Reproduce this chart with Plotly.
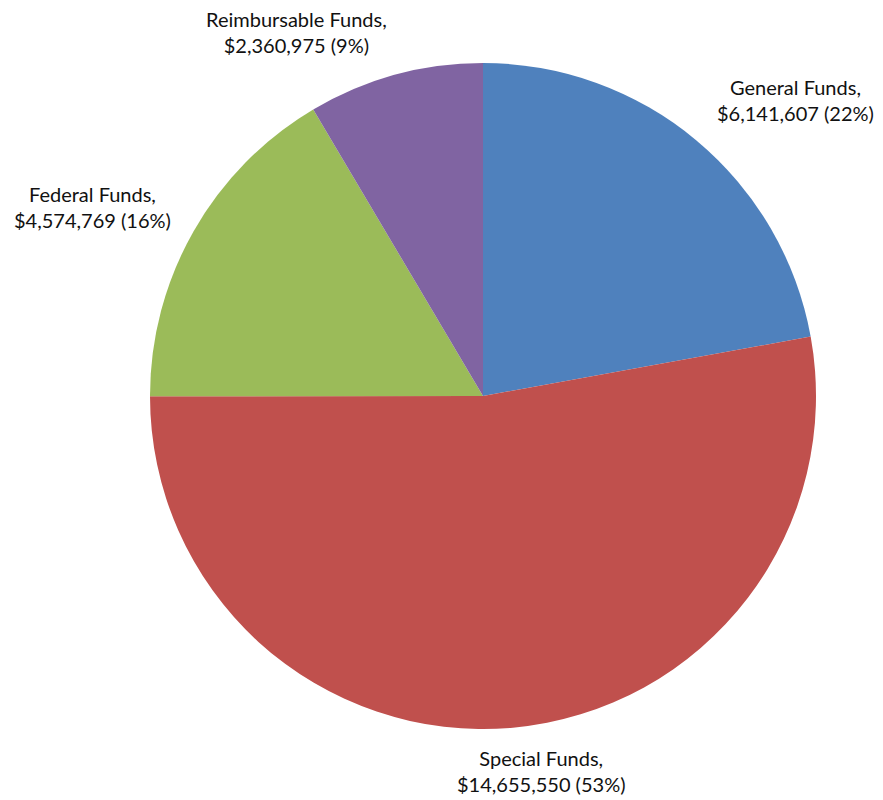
import plotly.graph_objects as go

# Fund sources and amounts
funds = ["General Funds", "Special Funds", "Federal Funds", "Reimbursable Funds"]
amounts = [6141607, 14655550, 4574769, 2360975]
colors = ["#4F81BD", "#C0504D", "#9BBB59", "#8064A2"]

# Label anchor points (pixels from top-left) for each fund
label_x = [795, 541, 92, 296]
label_y = [100, 771, 207, 32]

W, H = 883, 800
total = sum(amounts)

fig = go.Figure(
    go.Pie(
        labels=funds,
        values=amounts,
        marker=dict(colors=colors, line=dict(width=0)),
        sort=False,
        direction="clockwise",
        rotation=0,
        textinfo="none",
        hoverinfo="label+value+percent",
        domain=dict(x=[150 / W, 816 / W], y=[(H - 729) / H, (H - 63) / H]),
    )
)

for name, amt, lx, ly in zip(funds, amounts, label_x, label_y):
    pct = round(amt / total * 100)
    fig.add_annotation(
        x=lx / W,
        y=1 - ly / H,
        xref="paper",
        yref="paper",
        text=f"{name},<br>${amt:,} ({pct}%)",
        showarrow=False,
        xanchor="center",
        yanchor="middle",
        align="center",
        font=dict(family="Lato, Noto Sans, sans-serif", size=20, color="#111111"),
    )

fig.update_layout(
    width=W,
    height=H,
    margin=dict(l=0, r=0, t=0, b=0),
    showlegend=False,
    paper_bgcolor="white",
    plot_bgcolor="white",
)

fig.write_html("out.html")
